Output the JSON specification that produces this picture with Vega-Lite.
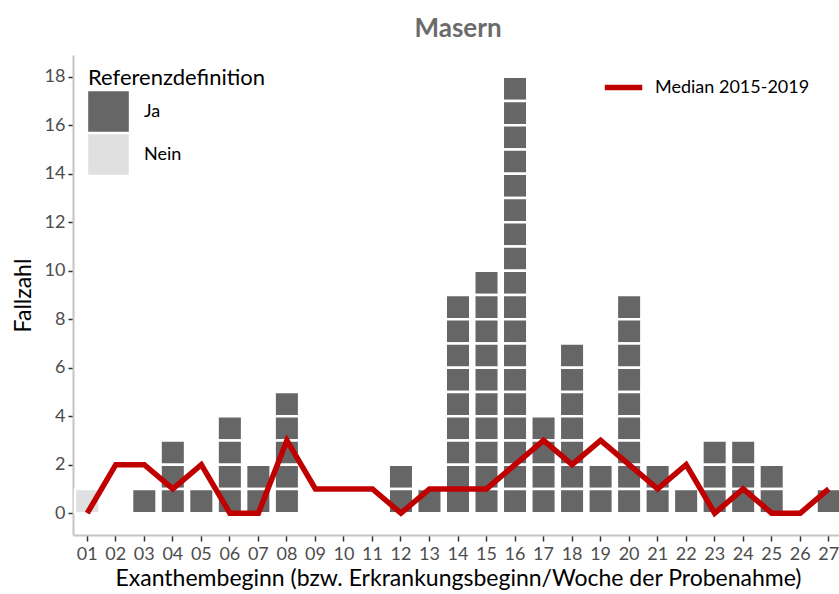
{
"$schema": "https://vega.github.io/schema/vega-lite/v6.json",
"width": 770,
"height": 480,
"autosize": {"type": "none"},
"padding": {"left": 73, "top": 55, "right": 0, "bottom": 59},
"background": "white",
"title": {"text": "Masern", "fontSize": 26, "fontWeight": "bold", "color": "#6b6b6b", "font": "Lato", "anchor": "middle", "frame": "group", "offset": 13},
"config": {
  "view": {"stroke": null},
  "font": "Lato",
  "axis": {"grid": false, "domainColor": "#c4c4c4", "domainWidth": 2, "tickColor": "#333333", "tickWidth": 1.5, "tickSize": 5, "labelColor": "#4d4d4d", "labelFontSize": 18, "labelFont": "Lato", "titleFont": "Lato", "titleFontSize": 23, "titleFontWeight": "normal", "titleColor": "#000000"},
  "legend": {"labelFont": "Lato", "titleFont": "Lato"}
},
"datasets": {
  "cases": [
    {"w":"01","r":"Nein","i":1},
    {"w":"03","r":"Ja","i":2},
    {"w":"04","r":"Ja","i":3},{"w":"04","r":"Ja","i":4},{"w":"04","r":"Ja","i":5},
    {"w":"05","r":"Ja","i":6},
    {"w":"06","r":"Ja","i":7},{"w":"06","r":"Ja","i":8},{"w":"06","r":"Ja","i":9},{"w":"06","r":"Ja","i":10},
    {"w":"07","r":"Ja","i":11},{"w":"07","r":"Ja","i":12},
    {"w":"08","r":"Ja","i":13},{"w":"08","r":"Ja","i":14},{"w":"08","r":"Ja","i":15},{"w":"08","r":"Ja","i":16},{"w":"08","r":"Ja","i":17},
    {"w":"12","r":"Ja","i":18},{"w":"12","r":"Ja","i":19},
    {"w":"13","r":"Ja","i":20},
    {"w":"14","r":"Ja","i":21},{"w":"14","r":"Ja","i":22},{"w":"14","r":"Ja","i":23},{"w":"14","r":"Ja","i":24},{"w":"14","r":"Ja","i":25},{"w":"14","r":"Ja","i":26},{"w":"14","r":"Ja","i":27},{"w":"14","r":"Ja","i":28},{"w":"14","r":"Ja","i":29},
    {"w":"15","r":"Ja","i":30},{"w":"15","r":"Ja","i":31},{"w":"15","r":"Ja","i":32},{"w":"15","r":"Ja","i":33},{"w":"15","r":"Ja","i":34},{"w":"15","r":"Ja","i":35},{"w":"15","r":"Ja","i":36},{"w":"15","r":"Ja","i":37},{"w":"15","r":"Ja","i":38},{"w":"15","r":"Ja","i":39},
    {"w":"16","r":"Ja","i":40},{"w":"16","r":"Ja","i":41},{"w":"16","r":"Ja","i":42},{"w":"16","r":"Ja","i":43},{"w":"16","r":"Ja","i":44},{"w":"16","r":"Ja","i":45},{"w":"16","r":"Ja","i":46},{"w":"16","r":"Ja","i":47},{"w":"16","r":"Ja","i":48},{"w":"16","r":"Ja","i":49},{"w":"16","r":"Ja","i":50},{"w":"16","r":"Ja","i":51},{"w":"16","r":"Ja","i":52},{"w":"16","r":"Ja","i":53},{"w":"16","r":"Ja","i":54},{"w":"16","r":"Ja","i":55},{"w":"16","r":"Ja","i":56},{"w":"16","r":"Ja","i":57},
    {"w":"17","r":"Ja","i":58},{"w":"17","r":"Ja","i":59},{"w":"17","r":"Ja","i":60},{"w":"17","r":"Ja","i":61},
    {"w":"18","r":"Ja","i":62},{"w":"18","r":"Ja","i":63},{"w":"18","r":"Ja","i":64},{"w":"18","r":"Ja","i":65},{"w":"18","r":"Ja","i":66},{"w":"18","r":"Ja","i":67},{"w":"18","r":"Ja","i":68},
    {"w":"19","r":"Ja","i":69},{"w":"19","r":"Ja","i":70},
    {"w":"20","r":"Ja","i":71},{"w":"20","r":"Ja","i":72},{"w":"20","r":"Ja","i":73},{"w":"20","r":"Ja","i":74},{"w":"20","r":"Ja","i":75},{"w":"20","r":"Ja","i":76},{"w":"20","r":"Ja","i":77},{"w":"20","r":"Ja","i":78},{"w":"20","r":"Ja","i":79},
    {"w":"21","r":"Ja","i":80},{"w":"21","r":"Ja","i":81},
    {"w":"22","r":"Ja","i":82},
    {"w":"23","r":"Ja","i":83},{"w":"23","r":"Ja","i":84},{"w":"23","r":"Ja","i":85},
    {"w":"24","r":"Ja","i":86},{"w":"24","r":"Ja","i":87},{"w":"24","r":"Ja","i":88},
    {"w":"25","r":"Ja","i":89},{"w":"25","r":"Ja","i":90},
    {"w":"27","r":"Ja","i":91}
  ],
  "median": [
    {"w":"01","m":0},{"w":"02","m":2},{"w":"03","m":2},{"w":"04","m":1},{"w":"05","m":2},{"w":"06","m":0},{"w":"07","m":0},{"w":"08","m":3},{"w":"09","m":1},{"w":"10","m":1},{"w":"11","m":1},{"w":"12","m":0},{"w":"13","m":1},{"w":"14","m":1},{"w":"15","m":1},{"w":"16","m":2},{"w":"17","m":3},{"w":"18","m":2},{"w":"19","m":3},{"w":"20","m":2},{"w":"21","m":1},{"w":"22","m":2},{"w":"23","m":0},{"w":"24","m":1},{"w":"25","m":0},{"w":"26","m":0},{"w":"27","m":1}
  ]
},
"layer": [
  {
    "data": {"name": "cases"},
    "mark": {"type": "bar", "stroke": "white", "strokeWidth": 2.5},
    "encoding": {
      "x": {"field": "w", "type": "ordinal",
        "scale": {"domain": ["01","02","03","04","05","06","07","08","09","10","11","12","13","14","15","16","17","18","19","20","21","22","23","24","25","26","27"], "paddingInner": 0.14, "paddingOuter": 0.07},
        "axis": {"labelAngle": 0, "title": "Exanthembeginn (bzw. Erkrankungsbeginn/Woche der Probenahme)", "titlePadding": 4, "labelPadding": 4, "tickSize": 6}},
      "y": {"aggregate": "count", "type": "quantitative", "stack": "zero",
        "scale": {"domain": [-0.9, 18.9], "nice": false, "zero": false},
        "axis": {"values": [0,2,4,6,8,10,12,14,16,18], "title": "Fallzahl", "titlePadding": 9, "labelPadding": 3}},
      "detail": {"field": "i"},
      "fill": {"field": "r", "type": "nominal",
        "scale": {"domain": ["Ja","Nein"], "range": ["#666666","#e0e0e0"]},
        "legend": {"orient": "none", "legendX": 15, "legendY": 13, "title": "Referenzdefinition", "titleFontSize": 22, "titleFontWeight": "normal", "titleColor": "#000000", "titlePadding": 1, "symbolType": "square", "symbolSize": 1650, "symbolStrokeWidth": 0, "symbolOpacity": 1, "labelFontSize": 18, "labelColor": "#000000", "labelOffset": 15, "rowPadding": 2}}
    }
  },
  {
    "data": {"name": "median"},
    "mark": {"type": "line", "strokeWidth": 5.5, "strokeJoin": "miter"},
    "encoding": {
      "x": {"field": "w", "type": "ordinal"},
      "y": {"field": "m", "type": "quantitative"},
      "stroke": {"datum": "Median 2015-2019",
        "scale": {"range": ["#c00000"]},
        "legend": {"orient": "none", "legendX": 529, "legendY": 11, "title": null, "symbolType": "stroke", "symbolSize": 1400, "symbolStrokeWidth": 5.5, "labelFontSize": 18, "labelColor": "#000000", "labelOffset": 10}}
    }
  }
]
}
